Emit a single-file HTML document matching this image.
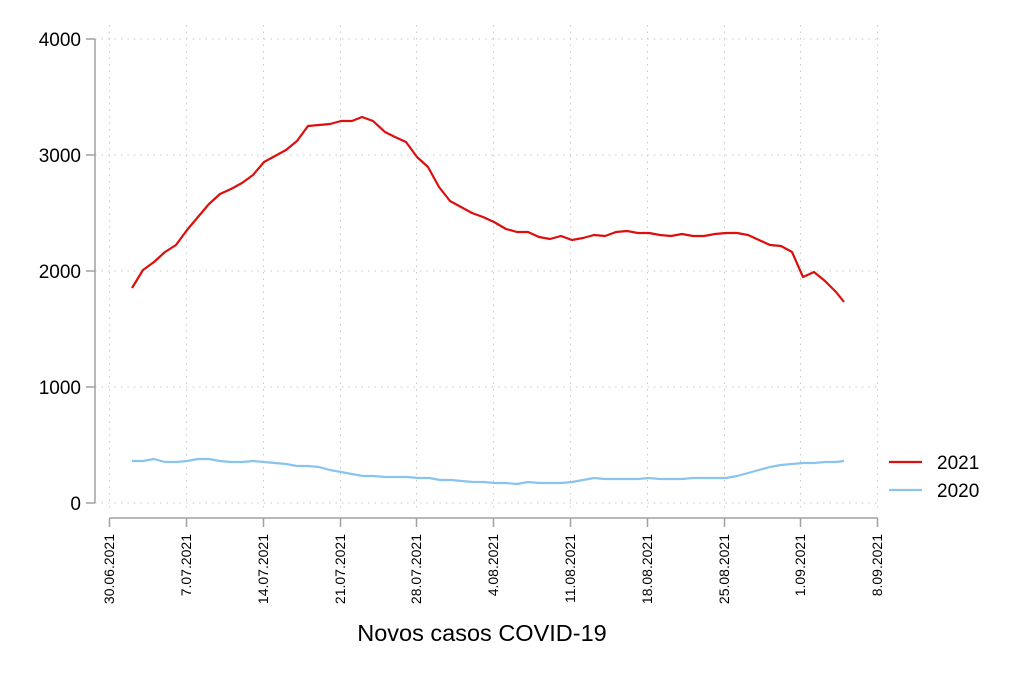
<!DOCTYPE html>
<html><head><meta charset="utf-8"><style>
html,body{margin:0;padding:0;background:#fff;}
svg{display:block;font-family:"Liberation Sans",sans-serif;}
</style></head><body>
<svg width="1024" height="682" viewBox="0 0 1024 682" xmlns="http://www.w3.org/2000/svg">
<rect width="1024" height="682" fill="#fff"/>
<g stroke="#c8c8c8" stroke-width="1" stroke-dasharray="1.5,5">
<line x1="95" y1="503" x2="880" y2="503"/>
<line x1="95" y1="387" x2="880" y2="387"/>
<line x1="95" y1="271" x2="880" y2="271"/>
<line x1="95" y1="155" x2="880" y2="155"/>
<line x1="95" y1="39" x2="880" y2="39"/>
<line x1="109.5" y1="25" x2="109.5" y2="512"/>
<line x1="186.5" y1="25" x2="186.5" y2="512"/>
<line x1="263.5" y1="25" x2="263.5" y2="512"/>
<line x1="340.5" y1="25" x2="340.5" y2="512"/>
<line x1="416.5" y1="25" x2="416.5" y2="512"/>
<line x1="493.5" y1="25" x2="493.5" y2="512"/>
<line x1="570.5" y1="25" x2="570.5" y2="512"/>
<line x1="647.5" y1="25" x2="647.5" y2="512"/>
<line x1="724.5" y1="25" x2="724.5" y2="512"/>
<line x1="800.5" y1="25" x2="800.5" y2="512"/>
<line x1="877.5" y1="25" x2="877.5" y2="512"/>
</g>
<g stroke="#a0a0a0" stroke-width="1.5" fill="none">
<line x1="95" y1="39" x2="95" y2="503"/>
<line x1="86" y1="39" x2="95" y2="39"/>
<line x1="86" y1="155" x2="95" y2="155"/>
<line x1="86" y1="271" x2="95" y2="271"/>
<line x1="86" y1="387" x2="95" y2="387"/>
<line x1="86" y1="503" x2="95" y2="503"/>
<line x1="109.5" y1="518" x2="877.5" y2="518"/>
<line x1="109.5" y1="518" x2="109.5" y2="527"/>
<line x1="186.5" y1="518" x2="186.5" y2="527"/>
<line x1="263.5" y1="518" x2="263.5" y2="527"/>
<line x1="340.5" y1="518" x2="340.5" y2="527"/>
<line x1="416.5" y1="518" x2="416.5" y2="527"/>
<line x1="493.5" y1="518" x2="493.5" y2="527"/>
<line x1="570.5" y1="518" x2="570.5" y2="527"/>
<line x1="647.5" y1="518" x2="647.5" y2="527"/>
<line x1="724.5" y1="518" x2="724.5" y2="527"/>
<line x1="800.5" y1="518" x2="800.5" y2="527"/>
<line x1="877.5" y1="518" x2="877.5" y2="527"/>
</g>
<g font-size="19" fill="#000" text-anchor="end">
<text x="81" y="46">4000</text>
<text x="81" y="162">3000</text>
<text x="81" y="278">2000</text>
<text x="81" y="394">1000</text>
<text x="81" y="510">0</text>
</g>
<g font-size="14" fill="#000" text-anchor="end">
<text transform="translate(114,534) rotate(-90)">30.06.2021</text>
<text transform="translate(191,534) rotate(-90)">7.07.2021</text>
<text transform="translate(268,534) rotate(-90)">14.07.2021</text>
<text transform="translate(345,534) rotate(-90)">21.07.2021</text>
<text transform="translate(421,534) rotate(-90)">28.07.2021</text>
<text transform="translate(498,534) rotate(-90)">4.08.2021</text>
<text transform="translate(575,534) rotate(-90)">11.08.2021</text>
<text transform="translate(652,534) rotate(-90)">18.08.2021</text>
<text transform="translate(729,534) rotate(-90)">25.08.2021</text>
<text transform="translate(805,534) rotate(-90)">1.09.2021</text>
<text transform="translate(882,534) rotate(-90)">8.09.2021</text>
</g>
<polyline fill="none" stroke="#89c4ef" stroke-width="2.2" stroke-linejoin="round" points="132,461 143,461 154,459 165,462 176,462 187,461 198,459 209,459 220,461 231,462 242,462 253,461 264,462 275,463 286,464 297,466 308,466 319,467 330,470 341,472 352,474 363,476 374,476 385,477 396,477 407,477 418,478 429,478 440,480 451,480 462,481 473,482 484,482 495,483 506,483 517,484 528,482 539,483 550,483 561,483 572,482 583,480 594,478 605,479 616,479 627,479 638,479 649,478 660,479 671,479 682,479 693,478 704,478 715,478 726,478 737,476 748,473 759,470 770,467 781,465 792,464 803,463 814,463 825,462 836,462 844,461"/>
<polyline fill="none" stroke="#dc0f0f" stroke-width="2.2" stroke-linejoin="round" points="132,288 143,270 154,262 165,252 176,245 187,230 198,217 209,204 220,194 231,189 242,183 253,175 264,162 275,156 286,150 297,141 308,126 319,125 330,124 341,121 352,121 362,117 373,121 385,132 395,137 406,142 417,157 428,167 439,187 450,201 461,207 472,213 483,217 494,222 506,229 517,232 528,232 539,237 550,239 561,236 572,240 583,238 594,235 605,236 616,232 627,231 638,233 649,233 660,235 671,236 682,234 693,236 704,236 715,234 726,233 737,233 748,235 759,240 770,245 781,246 792,252 803,277 814,272 825,281 836,292 844,302"/>
<line x1="889" y1="462" x2="922" y2="462" stroke="#dc0f0f" stroke-width="2.2"/>
<line x1="889" y1="490" x2="922" y2="490" stroke="#89c4ef" stroke-width="2.2"/>
<g font-size="19" fill="#000">
<text x="937" y="469">2021</text>
<text x="937" y="497">2020</text>
</g>
<text x="482" y="641" font-size="23.5" text-anchor="middle" fill="#000">Novos casos COVID-19</text>
</svg>
</body></html>
